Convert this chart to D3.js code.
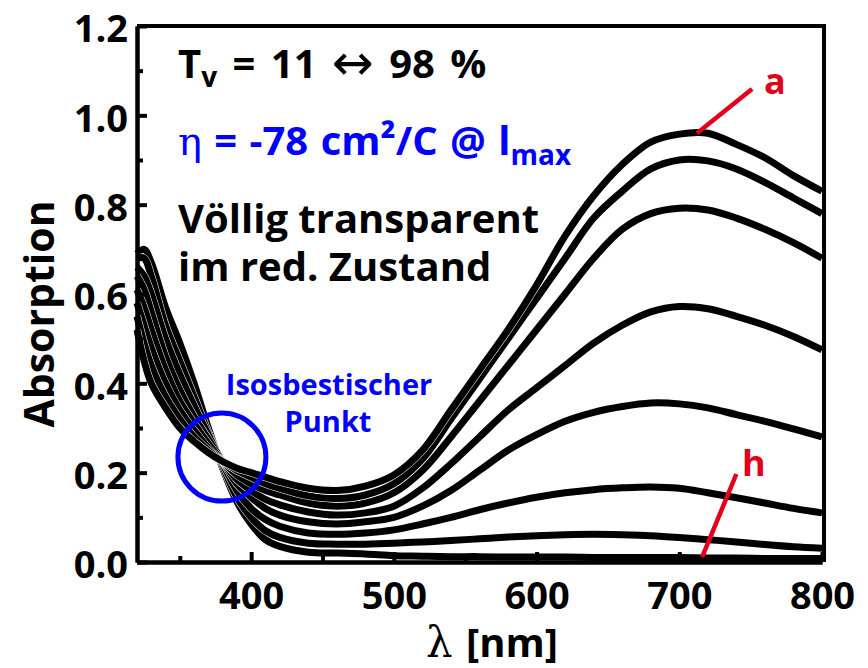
<!DOCTYPE html>
<html>
<head>
<meta charset="utf-8">
<script src="https://cdn.jsdelivr.net/npm/d3@7"></script>
<style>
  html, body { margin: 0; padding: 0; background: #fff; }
  svg text { font-family: "Open Sans", "Noto Sans", sans-serif; font-weight: bold; }
</style>
</head>
<body>
<div id="chart"></div>
<script>
// wavelength grid (nm)
const wavelengths = [320, 325, 330, 340, 350, 360, 370, 380, 390, 400, 410, 420, 440, 460, 480, 500,
  520, 540, 560, 580, 600, 620, 640, 660, 680, 700, 720, 740, 760, 780, 800];

// absorption spectra, a = oxidised ... h = reduced
const specA = [0.52, 0.45, 0.40, 0.345, 0.30, 0.27, 0.245, 0.225, 0.21, 0.20, 0.19, 0.18, 0.165, 0.16, 0.17, 0.195,
  0.25, 0.34, 0.43, 0.52, 0.62, 0.73, 0.82, 0.89, 0.94, 0.958, 0.96, 0.935, 0.905, 0.865, 0.83];
const specB = [0.55, 0.49, 0.44, 0.37, 0.32, 0.28, 0.25, 0.225, 0.205, 0.19, 0.175, 0.165, 0.148, 0.142, 0.15, 0.175,
  0.23, 0.32, 0.41, 0.50, 0.59, 0.68, 0.77, 0.83, 0.88, 0.90, 0.898, 0.88, 0.85, 0.815, 0.78];
const specC = [0.58, 0.53, 0.48, 0.40, 0.34, 0.295, 0.255, 0.225, 0.195, 0.175, 0.16, 0.15, 0.132, 0.125, 0.132, 0.155,
  0.205, 0.28, 0.36, 0.44, 0.52, 0.60, 0.68, 0.745, 0.78, 0.792, 0.788, 0.77, 0.745, 0.715, 0.68];
const specD = [0.61, 0.57, 0.52, 0.43, 0.36, 0.31, 0.265, 0.225, 0.185, 0.16, 0.14, 0.128, 0.112, 0.105, 0.11, 0.125,
  0.165, 0.22, 0.28, 0.34, 0.39, 0.44, 0.49, 0.53, 0.56, 0.572, 0.567, 0.55, 0.53, 0.505, 0.475];
const specE = [0.64, 0.61, 0.56, 0.46, 0.385, 0.325, 0.275, 0.225, 0.175, 0.145, 0.12, 0.105, 0.09, 0.085, 0.09, 0.10,
  0.125, 0.16, 0.205, 0.25, 0.285, 0.315, 0.335, 0.348, 0.356, 0.354, 0.345, 0.33, 0.315, 0.298, 0.28];
const specF = [0.66, 0.64, 0.60, 0.50, 0.42, 0.35, 0.285, 0.22, 0.16, 0.12, 0.095, 0.08, 0.065, 0.062, 0.065, 0.072,
  0.085, 0.10, 0.117, 0.132, 0.145, 0.155, 0.162, 0.166, 0.168, 0.165, 0.155, 0.144, 0.132, 0.12, 0.11];
const specG = [0.68, 0.68, 0.64, 0.53, 0.45, 0.37, 0.29, 0.215, 0.145, 0.10, 0.07, 0.055, 0.042, 0.04, 0.04, 0.042,
  0.045, 0.048, 0.052, 0.056, 0.059, 0.061, 0.062, 0.061, 0.059, 0.055, 0.05, 0.045, 0.039, 0.034, 0.031];
const specH = [0.69, 0.70, 0.67, 0.57, 0.49, 0.40, 0.30, 0.21, 0.135, 0.085, 0.05, 0.035, 0.022, 0.02, 0.018, 0.014,
  0.013, 0.012, 0.012, 0.011, 0.011, 0.011, 0.01, 0.01, 0.01, 0.01, 0.009, 0.009, 0.008, 0.008, 0.008];

const spectra = [specH, specG, specF, specE, specD, specC, specB, specA];

const xTicks = [400, 500, 600, 700, 800];
const xMinor = [350, 450, 550, 650, 750];
const yTicks = [0.0, 0.2, 0.4, 0.6, 0.8, 1.0, 1.2];
const yMinor = [0.1, 0.3, 0.5, 0.7, 0.9, 1.1];

const W = 868, H = 668;
const margin = { top: 26, right: 46, bottom: 106, left: 137 };
const width = W - margin.left - margin.right;
const height = H - margin.top - margin.bottom;

const svg = d3.select("#chart").append("svg").attr("width", W).attr("height", H);
const g = svg.append("g").attr("transform", `translate(${margin.left},${margin.top})`);

const x = d3.scaleLinear().domain([320, 800]).range([0, width]);
const y = d3.scaleLinear().domain([0, 1.2]).range([height, 0]);

// spectra: thin white halo under each black line
const line = d3.line().x((d, i) => x(wavelengths[i])).y(d => y(d)).curve(d3.curveCatmullRom.alpha(0.5));
spectra.forEach(s => {
  g.append("path").datum(s).attr("fill", "none").attr("stroke", "#fff").attr("stroke-width", 8).attr("d", line);
  g.append("path").datum(s).attr("fill", "none").attr("stroke", "#000").attr("stroke-width", 7).attr("d", line);
});

// frame
g.append("line").attr("x1", 0).attr("x2", width + 2).attr("y1", 0).attr("y2", 0)
  .attr("stroke", "#000").attr("stroke-width", 4);
g.append("line").attr("x1", width + 2).attr("x2", width + 2).attr("y1", -2).attr("y2", height)
  .attr("stroke", "#000").attr("stroke-width", 4);

// axes
function styleAxis(sel) {
  sel.select(".domain").attr("stroke-width", 4);
  sel.selectAll(".tick line").attr("stroke-width", 4);
  sel.selectAll("text").attr("font-size", 38).attr("font-family", "'Open Sans', sans-serif")
    .attr("font-weight", "bold").attr("fill", "#000");
}

g.append("g").attr("transform", `translate(0,${height})`)
  .call(d3.axisBottom(x).tickValues(xMinor).tickFormat("").tickSize(-6).tickSizeOuter(0))
  .call(styleAxis);
g.append("g")
  .call(d3.axisLeft(y).tickValues(yMinor).tickFormat("").tickSize(-6).tickSizeOuter(0))
  .call(styleAxis);
g.append("g").attr("transform", `translate(0,${height})`)
  .call(d3.axisBottom(x).tickValues(xTicks).tickFormat(d3.format("d")).tickSize(-10).tickSizeOuter(0).tickPadding(20))
  .call(styleAxis);
g.append("g")
  .call(d3.axisLeft(y).tickValues(yTicks).tickFormat(d3.format(".1f")).tickSize(-10).tickSizeOuter(0).tickPadding(9))
  .call(styleAxis)
  .selectAll("text").attr("dy", "0.42em");

// axis titles
svg.append("text").attr("transform", `translate(54,${margin.top + height / 2 + 20}) rotate(-90)`)
  .attr("text-anchor", "middle").attr("font-size", 41).text("Absorption");
const xt = svg.append("text").attr("x", 426).attr("y", 657).attr("font-size", 40);
xt.append("tspan").attr("font-family", "'DejaVu Serif', serif").attr("font-weight", "normal")
  .attr("font-size", 42).text("λ");
xt.append("tspan").attr("x", 466).text("[nm]");

// isosbestic point
g.append("circle").attr("cx", x(379.5)).attr("cy", y(0.235)).attr("r", 44)
  .attr("fill", "none").attr("stroke", "#0000ff").attr("stroke-width", 5);
svg.append("text").attr("x", 329).attr("y", 395).attr("text-anchor", "middle").attr("font-size", 29)
  .attr("fill", "#0000ff").text("Isosbestischer");
svg.append("text").attr("x", 328).attr("y", 432).attr("text-anchor", "middle").attr("font-size", 29)
  .attr("fill", "#0000ff").text("Punkt");

// a / h markers
const red = "#e2001a";
g.append("line").attr("x1", x(712.4)).attr("y1", y(0.96)).attr("x2", x(751)).attr("y2", y(1.059))
  .attr("stroke", red).attr("stroke-width", 4.5);
g.append("line").attr("x1", x(716)).attr("y1", y(0.011)).attr("x2", x(740)).attr("y2", y(0.197))
  .attr("stroke", red).attr("stroke-width", 4.5);
svg.append("text").attr("x", 764).attr("y", 94).attr("font-size", 36).attr("fill", red).text("a");
svg.append("text").attr("x", 742).attr("y", 476).attr("font-size", 36).attr("fill", red).text("h");

// info text
const t1 = svg.append("text").attr("x", 178).attr("y", 78).attr("font-size", 40).attr("word-spacing", 5);
t1.append("tspan").text("T");
t1.append("tspan").attr("font-size", 28).attr("dy", 9).text("v");
t1.append("tspan").attr("dy", -9).text(" = 11 ");
t1.append("tspan").attr("font-weight", "normal").attr("font-family", "'DejaVu Sans', sans-serif")
  .attr("font-size", 50).attr("dy", 2).text("↔");
t1.append("tspan").attr("dy", -2).text(" 98 %");

const t2 = svg.append("text").attr("x", 178).attr("y", 155).attr("font-size", 40).attr("fill", "#0000ff")
  .attr("word-spacing", 2);
t2.append("tspan").attr("font-weight", "normal").attr("font-family", "'DejaVu Serif', serif").text("η");
t2.append("tspan").text(" = -78 cm²/C @ l");
t2.append("tspan").attr("font-size", 28).attr("dy", 10).text("max");

svg.append("text").attr("x", 178).attr("y", 233).attr("font-size", 40).text("Völlig transparent");
svg.append("text").attr("x", 178).attr("y", 281).attr("font-size", 40).text("im red. Zustand");
</script>
</body>
</html>
